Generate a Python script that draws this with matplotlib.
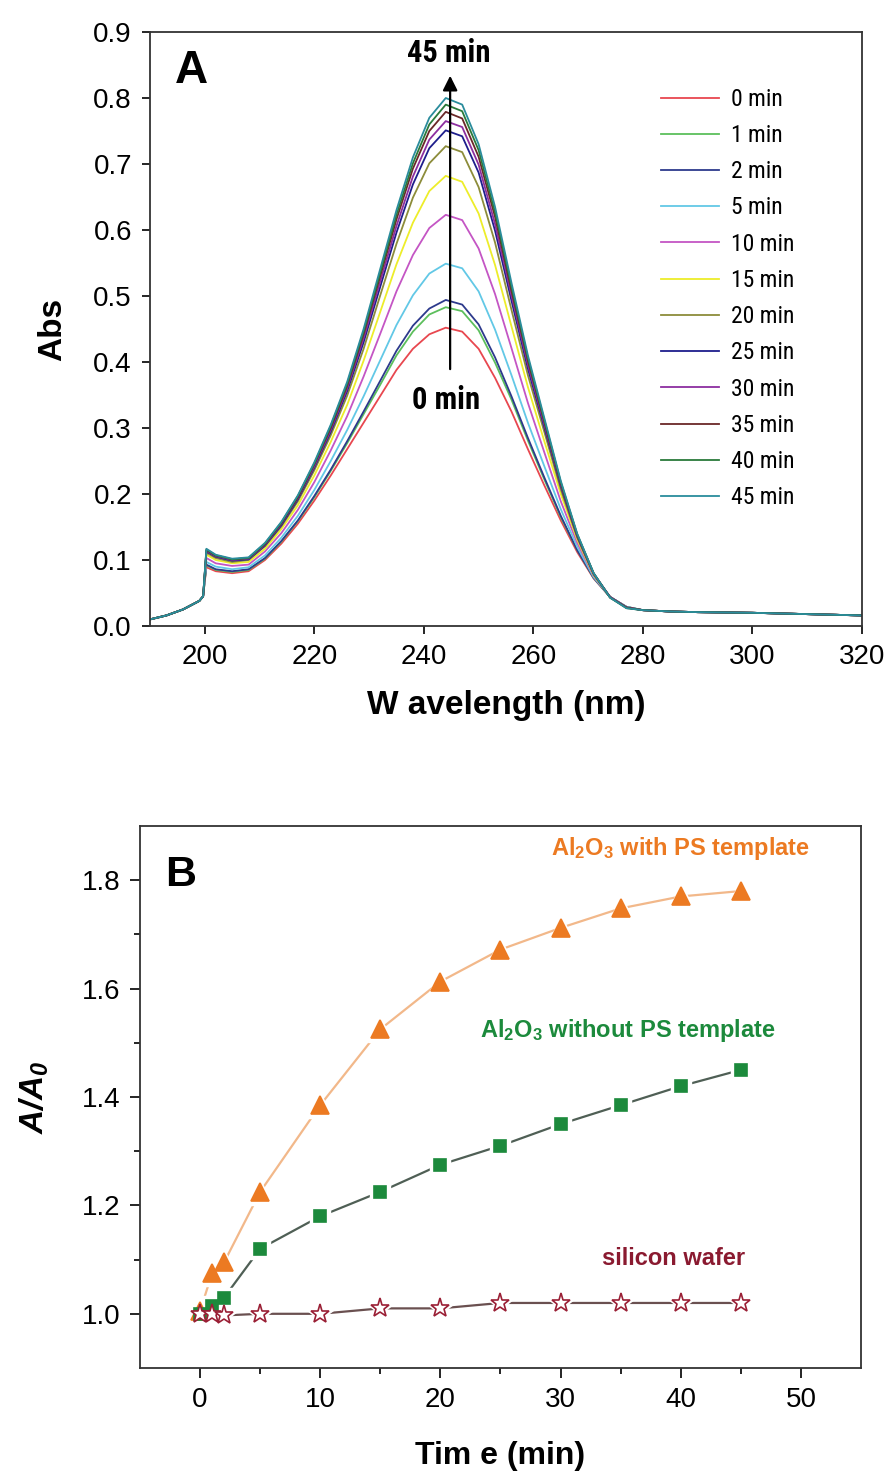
import matplotlib
matplotlib.use("Agg")
import matplotlib.pyplot as plt
from matplotlib import font_manager
import numpy as np

# ---------------- Panel A data ----------------
wl_pre = [190, 193, 196, 199, 199.7]
abs_pre = [0.010, 0.016, 0.025, 0.038, 0.045]

wl_main = [200.3, 202, 205, 208, 211, 214, 217, 220, 223, 226, 229, 232, 235,
           238, 241, 244, 247, 250, 253, 256, 259, 262, 265, 268, 271, 274, 277]

abs_0min = [0.089, 0.083, 0.080, 0.083, 0.100, 0.125, 0.155, 0.190, 0.228, 0.268, 0.308, 0.348, 0.388,
            0.420, 0.442, 0.452, 0.446, 0.420, 0.376, 0.325, 0.268, 0.213, 0.160, 0.112, 0.072, 0.044, 0.029]
abs_1min = [0.092, 0.085, 0.082, 0.085, 0.102, 0.128, 0.159, 0.195, 0.235, 0.277, 0.321, 0.365, 0.410,
            0.446, 0.472, 0.483, 0.477, 0.448, 0.399, 0.343, 0.281, 0.222, 0.165, 0.115, 0.073, 0.044, 0.029]
abs_2min = [0.093, 0.086, 0.083, 0.086, 0.103, 0.129, 0.160, 0.197, 0.237, 0.280, 0.325, 0.371, 0.417,
            0.455, 0.481, 0.494, 0.487, 0.457, 0.407, 0.348, 0.285, 0.225, 0.167, 0.115, 0.073, 0.044, 0.029]
abs_5min = [0.097, 0.090, 0.086, 0.089, 0.107, 0.134, 0.167, 0.206, 0.250, 0.297, 0.348, 0.402, 0.456,
            0.501, 0.534, 0.549, 0.542, 0.507, 0.449, 0.380, 0.308, 0.242, 0.177, 0.120, 0.074, 0.044, 0.029]
abs_10min = [0.103, 0.095, 0.091, 0.093, 0.113, 0.141, 0.176, 0.218, 0.266, 0.318, 0.378, 0.442, 0.507,
             0.562, 0.603, 0.623, 0.615, 0.572, 0.503, 0.421, 0.338, 0.263, 0.189, 0.126, 0.076, 0.044, 0.028]
abs_15min = [0.108, 0.100, 0.095, 0.097, 0.117, 0.147, 0.183, 0.228, 0.279, 0.335, 0.402, 0.475, 0.548,
             0.611, 0.659, 0.682, 0.673, 0.625, 0.547, 0.454, 0.362, 0.280, 0.200, 0.131, 0.077, 0.044, 0.028]
abs_20min = [0.111, 0.103, 0.097, 0.100, 0.121, 0.151, 0.189, 0.236, 0.289, 0.349, 0.420, 0.500, 0.579,
             0.649, 0.701, 0.727, 0.718, 0.665, 0.581, 0.479, 0.380, 0.294, 0.207, 0.134, 0.078, 0.044, 0.028]
abs_25min = [0.113, 0.105, 0.099, 0.101, 0.122, 0.153, 0.192, 0.240, 0.294, 0.356, 0.430, 0.513, 0.596,
             0.669, 0.724, 0.751, 0.742, 0.687, 0.599, 0.493, 0.390, 0.301, 0.212, 0.136, 0.079, 0.044, 0.028]
abs_30min = [0.114, 0.106, 0.100, 0.102, 0.123, 0.155, 0.194, 0.242, 0.297, 0.360, 0.436, 0.521, 0.606,
             0.681, 0.737, 0.765, 0.756, 0.699, 0.609, 0.501, 0.396, 0.305, 0.214, 0.137, 0.079, 0.044, 0.028]
abs_35min = [0.115, 0.107, 0.101, 0.103, 0.124, 0.156, 0.195, 0.245, 0.300, 0.364, 0.442, 0.529, 0.616,
             0.693, 0.750, 0.779, 0.769, 0.711, 0.620, 0.508, 0.402, 0.309, 0.216, 0.138, 0.080, 0.043, 0.028]
abs_40min = [0.116, 0.107, 0.101, 0.103, 0.125, 0.157, 0.197, 0.246, 0.303, 0.367, 0.446, 0.534, 0.623,
             0.701, 0.760, 0.790, 0.780, 0.721, 0.627, 0.514, 0.406, 0.312, 0.218, 0.139, 0.080, 0.043, 0.027]
abs_45min = [0.117, 0.108, 0.102, 0.104, 0.126, 0.158, 0.198, 0.248, 0.305, 0.370, 0.450, 0.540, 0.630,
             0.710, 0.770, 0.800, 0.790, 0.730, 0.635, 0.520, 0.410, 0.315, 0.220, 0.140, 0.080, 0.043, 0.027]

wl_tail = [280, 285, 290, 300, 310, 320]
abs_tail = [0.024, 0.022, 0.021, 0.020, 0.018, 0.016]

spectra_labels = ["0 min", "1 min", "2 min", "5 min", "10 min", "15 min", "20 min",
                  "25 min", "30 min", "35 min", "40 min", "45 min"]
spectra = [abs_0min, abs_1min, abs_2min, abs_5min, abs_10min, abs_15min, abs_20min,
           abs_25min, abs_30min, abs_35min, abs_40min, abs_45min]
spectra_colors = ["#e8474f", "#5cbf5c", "#2d3a8c", "#62c8e6", "#c455c4", "#eded2a",
                  "#8c8c3a", "#1e1e8c", "#8c2ea0", "#6a2828", "#2a7a3a", "#2a8c9c"]

# ---------------- Panel B data ----------------
time_min = [0, 1, 2, 5, 10, 15, 20, 25, 30, 35, 40, 45]
ratio_with_ps = [1.005, 1.075, 1.095, 1.225, 1.385, 1.525, 1.613, 1.672, 1.712, 1.748, 1.770, 1.780]
ratio_without_ps = [1.000, 1.015, 1.030, 1.120, 1.180, 1.225, 1.275, 1.310, 1.350, 1.385, 1.420, 1.450]
ratio_silicon = [1.000, 1.000, 0.997, 1.000, 1.000, 1.010, 1.010, 1.020, 1.020, 1.020, 1.020, 1.020]

# ---------------- fonts ----------------
avail = {f.name for f in font_manager.fontManager.ttflist}
def pick(*names):
    for n in names:
        if n in avail:
            return n
    return "DejaVu Sans"

SANS = pick("Liberation Sans", "Arial", "DejaVu Sans")
NARROW = pick("Liberation Sans Narrow", "Roboto Condensed", "Liberation Sans")
plt.rcParams["font.family"] = [SANS, "DejaVu Sans"]
plt.rcParams["mathtext.default"] = "regular"

fig = plt.figure(figsize=(8.92, 14.84), dpi=100)
H = 1484.0
W = 892.0

def axes_px(left, right, top, bottom):
    return fig.add_axes([left / W, 1 - bottom / H, (right - left) / W, (bottom - top) / H])

# ---------------- Panel A ----------------
axA = axes_px(150, 862, 32, 626)
for lab, vals, col in zip(spectra_labels, spectra, spectra_colors):
    x = list(wl_pre) + list(wl_main) + list(wl_tail)
    y = list(abs_pre) + list(vals) + list(abs_tail)
    axA.plot(x, y, color=col, lw=1.3, label=lab)

axA.set_xlim(190, 320)
axA.set_ylim(0.0, 0.9)
axA.set_xticks([200, 220, 240, 260, 280, 300, 320])
axA.set_yticks(np.arange(0, 0.91, 0.1))
axA.set_yticklabels([f"{v:.1f}" for v in np.arange(0, 0.91, 0.1)])
axA.tick_params(direction="out", length=6, width=1.2, labelsize=20, pad=7)
for s in axA.spines.values():
    s.set_linewidth(1.3)
    s.set_color("#333333")
axA.set_xlabel("W avelength (nm)", fontsize=24, fontweight="bold", labelpad=14)
axA.set_ylabel("Abs", fontsize=24, fontweight="bold", labelpad=18)

axA.text(0.035, 0.935, "A", transform=axA.transAxes, fontsize=33, fontweight="bold",
         ha="left", va="center")
axA.annotate("", xy=(244.8, 0.838), xytext=(244.8, 0.385),
             arrowprops=dict(arrowstyle="-|>", color="black", lw=1.6, mutation_scale=22))
axA.text(244.5, 0.868, "45 min", fontsize=22, family=NARROW, fontweight="bold",
         ha="center", va="center")
axA.text(244.0, 0.342, "0 min", fontsize=22, family=NARROW, fontweight="bold",
         ha="center", va="center")

leg = axA.legend(loc="upper left", bbox_to_anchor=(0.705, 0.922), frameon=False,
                 handlelength=2.45, handletextpad=0.5, labelspacing=0.56,
                 borderaxespad=0, prop={"family": NARROW, "size": 17})

# ---------------- Panel B ----------------
axB = axes_px(140, 861, 826, 1368)

def series(ax, x, y, line_col, mk, mk_size, face, edge):
    ax.plot(x, y, color=line_col, lw=1.6, zorder=1)
    ax.plot(x, y, ls="none", marker=mk, ms=mk_size + 5, mfc="white", mec="white", zorder=2)
    ax.plot(x, y, ls="none", marker=mk, ms=mk_size, mfc=face, mec=edge, mew=1.2, zorder=3)

series(axB, time_min, ratio_with_ps, "#f2b88a", "^", 13, "#ec7a22", "#ec7a22")
series(axB, time_min, ratio_without_ps, "#4f5f55", "s", 9, "#1c8a3c", "#1c8a3c")
series(axB, time_min, ratio_silicon, "#6a5050", "*", 14, "white", "#9a1f35")

axB.set_xlim(-5, 55)
axB.set_ylim(0.9, 1.9)
axB.set_xticks([0, 10, 20, 30, 40, 50])
axB.set_xticks([5, 15, 25, 35, 45], minor=True)
axB.set_yticks([1.0, 1.2, 1.4, 1.6, 1.8])
axB.set_yticklabels(["1.0", "1.2", "1.4", "1.6", "1.8"])
axB.set_yticks([1.1, 1.3, 1.5, 1.7], minor=True)
axB.tick_params(which="major", direction="out", length=7, width=1.2, labelsize=20, pad=7)
axB.tick_params(which="minor", direction="out", length=4, width=1.2)
for s in axB.spines.values():
    s.set_linewidth(1.3)
    s.set_color("#333333")
axB.set_xlabel("Tim e (min)", fontsize=23, fontweight="bold", labelpad=20)
axB.set_ylabel(r"$A/A_0$", fontsize=24, fontweight="bold", style="italic", labelpad=22)

axB.text(0.035, 0.91, "B", transform=axB.transAxes, fontsize=31, fontweight="bold",
         ha="left", va="center")
axB.text(40.0, 1.859, r"Al$_2$O$_3$ with PS template", color="#ec7a22", fontsize=17,
         fontweight="bold", ha="center", va="center")
axB.text(35.6, 1.522, r"Al$_2$O$_3$ without PS template", color="#1c8a3c", fontsize=17,
         fontweight="bold", ha="center", va="center")
axB.text(39.4, 1.102, "silicon wafer", color="#8a1a30", fontsize=17,
         fontweight="bold", ha="center", va="center")

fig.savefig("out.png", dpi=100)
